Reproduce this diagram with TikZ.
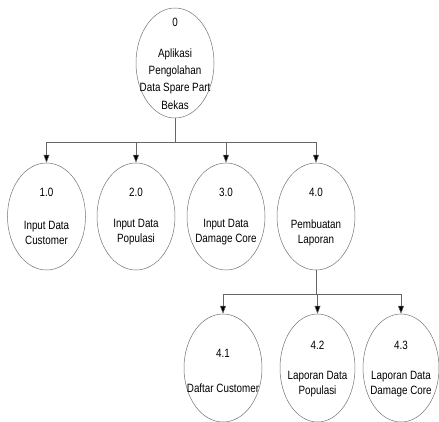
\documentclass[tikz,border=0pt]{standalone}
\usepackage{fontspec}
\setmainfont{Liberation Sans}[FakeStretch=0.82]
\usetikzlibrary{shapes.geometric,arrows.meta}
\tikzset{
  proc/.style={ellipse, draw=black!55, line width=0.5pt, inner sep=0pt,
    minimum width=78pt, minimum height=107pt},
  txt/.style={align=center, inner sep=0pt, font=\fontsize{12}{15}\selectfont},
  link/.style={draw=black!60, line width=0.5pt},
  flow/.style={link, -{Triangle[length=8pt,width=6pt,fill=black]}},
}
\begin{document}
\begin{tikzpicture}[x=1pt,y=-1pt]
\useasboundingbox (0,0) rectangle (439,421);
\clip (0,0) rectangle (439,421);

% context process
\node[proc, minimum height=110pt] (p0) at (175,63) {};
\node[txt] (t0) at (175,22) {0};
\node[txt, font=\fontsize{12}{17.3}\selectfont] (l0) at (175,79)
  {Aplikasi\\Pengolahan\\Data Spare Part\\Bekas};

% level 1 processes
\node[proc] (p1) at (46.5,216.5) {};
\node[proc] (p2) at (136,216.5) {};
\node[proc] (p3) at (226,216.5) {};
\node[proc] (p4) at (316,216.5) {};
\node[txt] (t1) at (46.5,192) {1.0};
\node[txt] (t2) at (136,192) {2.0};
\node[txt] (t3) at (226,192) {3.0};
\node[txt] (t4) at (316,192) {4.0};
\node[txt] (l1) at (46.5,232.5) {Input Data\\Customer};
\node[txt] (l2) at (136,232.5) {Input Data\\Populasi};
\node[txt] (l3) at (226,232.5) {Input Data\\Damage Core};
\node[txt] (l4) at (316,232.5) {Pembuatan\\Laporan};

% sub-processes of 4.0
\node[proc, minimum height=108pt] (p41) at (223,368) {};
\node[proc, minimum width=75pt, minimum height=108pt] (p42) at (317.5,368) {};
\node[proc, minimum width=76pt, minimum height=108pt] (p43) at (401,368) {};
\node[txt] (t41) at (223,353) {4.1};
\node[txt] (t42) at (317.5,345) {4.2};
\node[txt] (t43) at (401,345) {4.3};
\node[txt] (l41) at (223,388) {Daftar Customer};
\node[txt] (l42) at (317.5,384.5) {Laporan Data\\Populasi};
\node[txt] (l43) at (401,384.5) {Laporan Data\\Damage Core};

% junctions
\coordinate (j0) at (175,142.5);
\coordinate (j4) at (316,294);

\draw[link] (p0.south) -- (j0);
\draw[flow] (j0) -| (p1.north);
\draw[flow] (j0) -| (p2.north);
\draw[flow] (j0) -| (p3.north);
\draw[flow] (j0) -| (p4.north);

\draw[link] (p4.south) -- (j4);
\draw[flow] (j4) -| (p41.north);
\draw[flow] (j4) -| (p42.north);
\draw[flow] (j4) -| (p43.north);
\end{tikzpicture}
\end{document}
